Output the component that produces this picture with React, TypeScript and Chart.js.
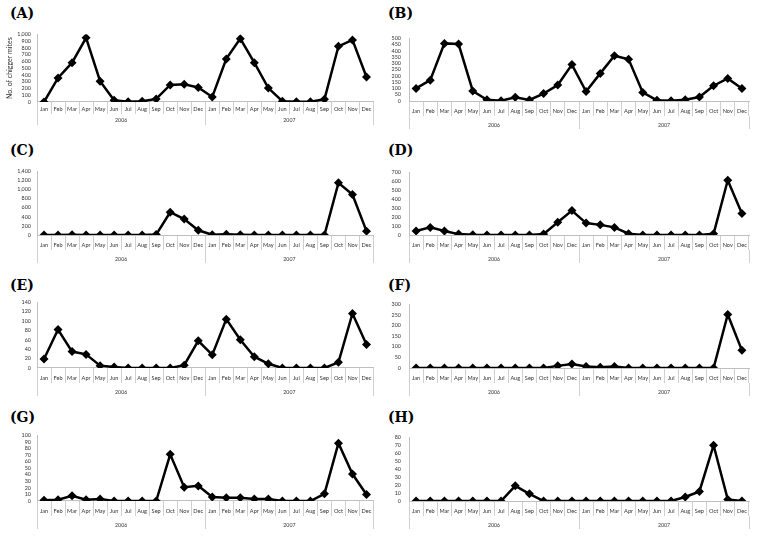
import React, { useEffect, useRef } from 'react';
import { Chart, registerables } from 'chart.js';

Chart.register(...registerables);

// ---------- data ----------
const MONTHS = [
  'Jan', 'Feb', 'Mar', 'Apr', 'May', 'Jun', 'Jul', 'Aug', 'Sep', 'Oct', 'Nov', 'Dec',
  'Jan', 'Feb', 'Mar', 'Apr', 'May', 'Jun', 'Jul', 'Aug', 'Sep', 'Oct', 'Nov', 'Dec',
];
const YEARS = ['2006', '2007'];
const PANEL_TITLES = ['(A)', '(B)', '(C)', '(D)', '(E)', '(F)', '(G)', '(H)'];
const Y_TITLE = 'No. of chigger mites';

const SERIES_A = [0, 355, 580, 948, 308, 25, 3, 10, 45, 252, 262, 215, 75, 636, 935, 580, 206, 12, 3, 5, 40, 822, 916, 369];
const SERIES_B = [100, 166, 459, 454, 80, 10, 2, 29, 8, 59, 127, 290, 76, 220, 361, 332, 68, 5, 2, 10, 32, 122, 180, 100];
const SERIES_C = [0, 0, 3, 0, 0, 0, 0, 0, 10, 500, 350, 104, 5, 15, 5, 0, 0, 0, 0, 0, 0, 1145, 887, 85];
const SERIES_D = [45, 85, 44, 10, 3, 0, 0, 0, 0, 10, 143, 273, 133, 113, 85, 14, 1, 0, 0, 0, 0, 14, 611, 240];
const SERIES_E = [19, 82, 35, 29, 5, 2, 0, 0, 0, 0, 6, 58, 28, 104, 60, 24, 9, 0, 0, 0, 0, 12, 116, 50];
const SERIES_F = [0, 0, 0, 0, 0, 0, 0, 0, 0, 0, 10, 19, 7, 4, 7, 0, 0, 0, 0, 0, 0, 0, 252, 83];
const SERIES_G = [1, 2, 8, 2, 3, 0, 0, 0, 0, 71, 21, 23, 6, 5, 5, 3, 3, 0, 0, 0, 11, 88, 41, 10];
const SERIES_H = [0, 0, 0, 0, 0, 0, 0, 19, 9, 0, 0, 0, 0, 0, 0, 0, 0, 0, 0, 5, 12, 70, 2, 0];

const SERIES = [SERIES_A, SERIES_B, SERIES_C, SERIES_D, SERIES_E, SERIES_F, SERIES_G, SERIES_H];
const Y_MAX = [1000, 500, 1400, 700, 140, 300, 100, 80];
const Y_STEP = [100, 50, 200, 100, 20, 50, 10, 10];

// ---------- layout / style ----------
const PAD_TOP = 6;
const LAYOUT = [
  { left: 0, width: 378, chartLeft: 37, chartRight: 375, chartTop: 31, chartBottom: 102, titleX: 10, titleY: 13, compact: true, yTitle: true },
  { left: 378, width: 379, chartLeft: 409, chartRight: 749, chartTop: 33, chartBottom: 101, titleX: 388, titleY: 13, compact: false, yTitle: false },
  { left: 0, width: 378, chartLeft: 37, chartRight: 375, chartTop: 168, chartBottom: 235, titleX: 10, titleY: 150, compact: false, yTitle: false },
  { left: 378, width: 379, chartLeft: 409, chartRight: 749, chartTop: 167, chartBottom: 235, titleX: 388, titleY: 150, compact: false, yTitle: false },
  { left: 0, width: 378, chartLeft: 37, chartRight: 376, chartTop: 299, chartBottom: 368, titleX: 10, titleY: 285, compact: false, yTitle: false },
  { left: 378, width: 379, chartLeft: 409, chartRight: 749, chartTop: 299, chartBottom: 368, titleX: 388, titleY: 285, compact: false, yTitle: false },
  { left: 0, width: 378, chartLeft: 37, chartRight: 376, chartTop: 432, chartBottom: 501, titleX: 10, titleY: 417, compact: false, yTitle: false },
  { left: 378, width: 379, chartLeft: 409, chartRight: 749, chartTop: 432, chartBottom: 501, titleX: 388, titleY: 417, compact: false, yTitle: false },
];

const FONT = 'Lato, "Liberation Sans", sans-serif';
const TEXT = '#333333';
const AXIS = '#bfbfbf';
const SEP = '#d0d0d0';
const MONTH_SIZE = 5.6;
const YEAR_SIZE = 5.2;
const YTICK_SIZE = 5.4;

function Panel({ index }: { index: number }) {
  const ref = useRef<HTMLCanvasElement | null>(null);
  const L = LAYOUT[index];
  const tl1 = L.compact ? 12 : 15;
  const c1 = L.compact ? 7.5 : 10;
  const e2 = L.compact ? 23 : 28;
  const c2 = L.compact ? 18.5 : 24.5;
  const tl2 = e2 - tl1;
  const yearH = tl2 + 4;
  const canvasTop = L.chartTop - PAD_TOP;
  const height = L.chartBottom - canvasTop + tl1 + yearH;
  const yWidth = L.chartLeft - L.left;
  const padRight = L.left + L.width - L.chartRight;
  const isLeft = L.left === 0;

  useEffect(() => {
    if (!ref.current) return;
    const chart = new Chart(ref.current, {
      type: 'line',
      data: {
        labels: MONTHS,
        datasets: [
          {
            data: SERIES[index],
            borderColor: '#000000',
            backgroundColor: '#000000',
            borderWidth: 2.5,
            pointStyle: 'rectRot',
            pointRadius: 4.5,
            pointBorderWidth: 0,
            pointBackgroundColor: '#000000',
            tension: 0,
          },
        ],
      },
      options: {
        animation: false,
        responsive: false,
        layout: { padding: { top: PAD_TOP, left: 0, right: padRight, bottom: 0 } },
        plugins: { legend: { display: false }, tooltip: { enabled: false }, title: { display: false } },
        scales: {
          x: {
            type: 'category',
            position: 'bottom',
            offset: true,
            weight: 0,
            grid: { offset: true, drawOnChartArea: false, drawTicks: true, tickLength: tl1, color: SEP, lineWidth: 1 },
            border: { display: true, color: AXIS, width: 1 },
            ticks: {
              autoSkip: false,
              maxRotation: 0,
              minRotation: 0,
              padding: c1 - tl1 - (MONTH_SIZE * 1.2) / 2,
              color: TEXT,
              font: { family: FONT, size: MONTH_SIZE },
            },
            afterFit: (s: any) => {
              s.height = tl1;
            },
          },
          x2: {
            type: 'category',
            axis: 'x',
            labels: YEARS,
            position: 'bottom',
            offset: true,
            weight: 1,
            grid: { offset: true, drawOnChartArea: false, drawTicks: true, tickLength: tl2, color: SEP, lineWidth: 1 },
            border: { display: false },
            ticks: {
              autoSkip: false,
              maxRotation: 0,
              minRotation: 0,
              padding: c2 - e2 - (YEAR_SIZE * 1.2) / 2,
              color: TEXT,
              font: { family: FONT, size: YEAR_SIZE },
            },
            afterFit: (s: any) => {
              s.height = yearH;
            },
          },
          y: {
            type: 'linear',
            position: 'left',
            min: 0,
            max: Y_MAX[index],
            grid: { display: false, drawTicks: false },
            border: { display: true, color: AXIS, width: 1 },
            ticks: {
              stepSize: Y_STEP[index],
              autoSkip: false,
              padding: isLeft ? 6 : 8,
              color: TEXT,
              font: { family: FONT, size: YTICK_SIZE },
              callback: (v: any) => Number(v).toLocaleString('en-US'),
            },
            title: {
              display: L.yTitle,
              text: Y_TITLE,
              color: TEXT,
              font: { family: FONT, size: 7 },
              padding: { top: 5.8, bottom: 0 },
            },
            afterFit: (s: any) => {
              s.width = yWidth;
            },
          },
        },
      } as any,
    });
    return () => chart.destroy();
  }, [index]);

  return (
    <>
      <div
        style={{
          position: 'absolute',
          left: L.titleX,
          top: L.titleY - 8,
          height: 16,
          lineHeight: '16px',
          fontFamily: '"DejaVu Serif", serif',
          fontWeight: 'bold',
          fontSize: 14,
          color: '#000',
          whiteSpace: 'nowrap',
        }}
      >
        {PANEL_TITLES[index]}
      </div>
      <canvas
        ref={ref}
        width={L.width}
        height={height}
        style={{ position: 'absolute', left: L.left, top: canvasTop, width: L.width, height }}
      />
    </>
  );
}

export default function App() {
  return (
    <div
      style={{
        position: 'absolute',
        left: 0,
        top: 0,
        width: 757,
        height: 538,
        background: '#ffffff',
        overflow: 'hidden',
      }}
    >
      {PANEL_TITLES.map((_, i) => (
        <Panel key={i} index={i} />
      ))}
    </div>
  );
}
